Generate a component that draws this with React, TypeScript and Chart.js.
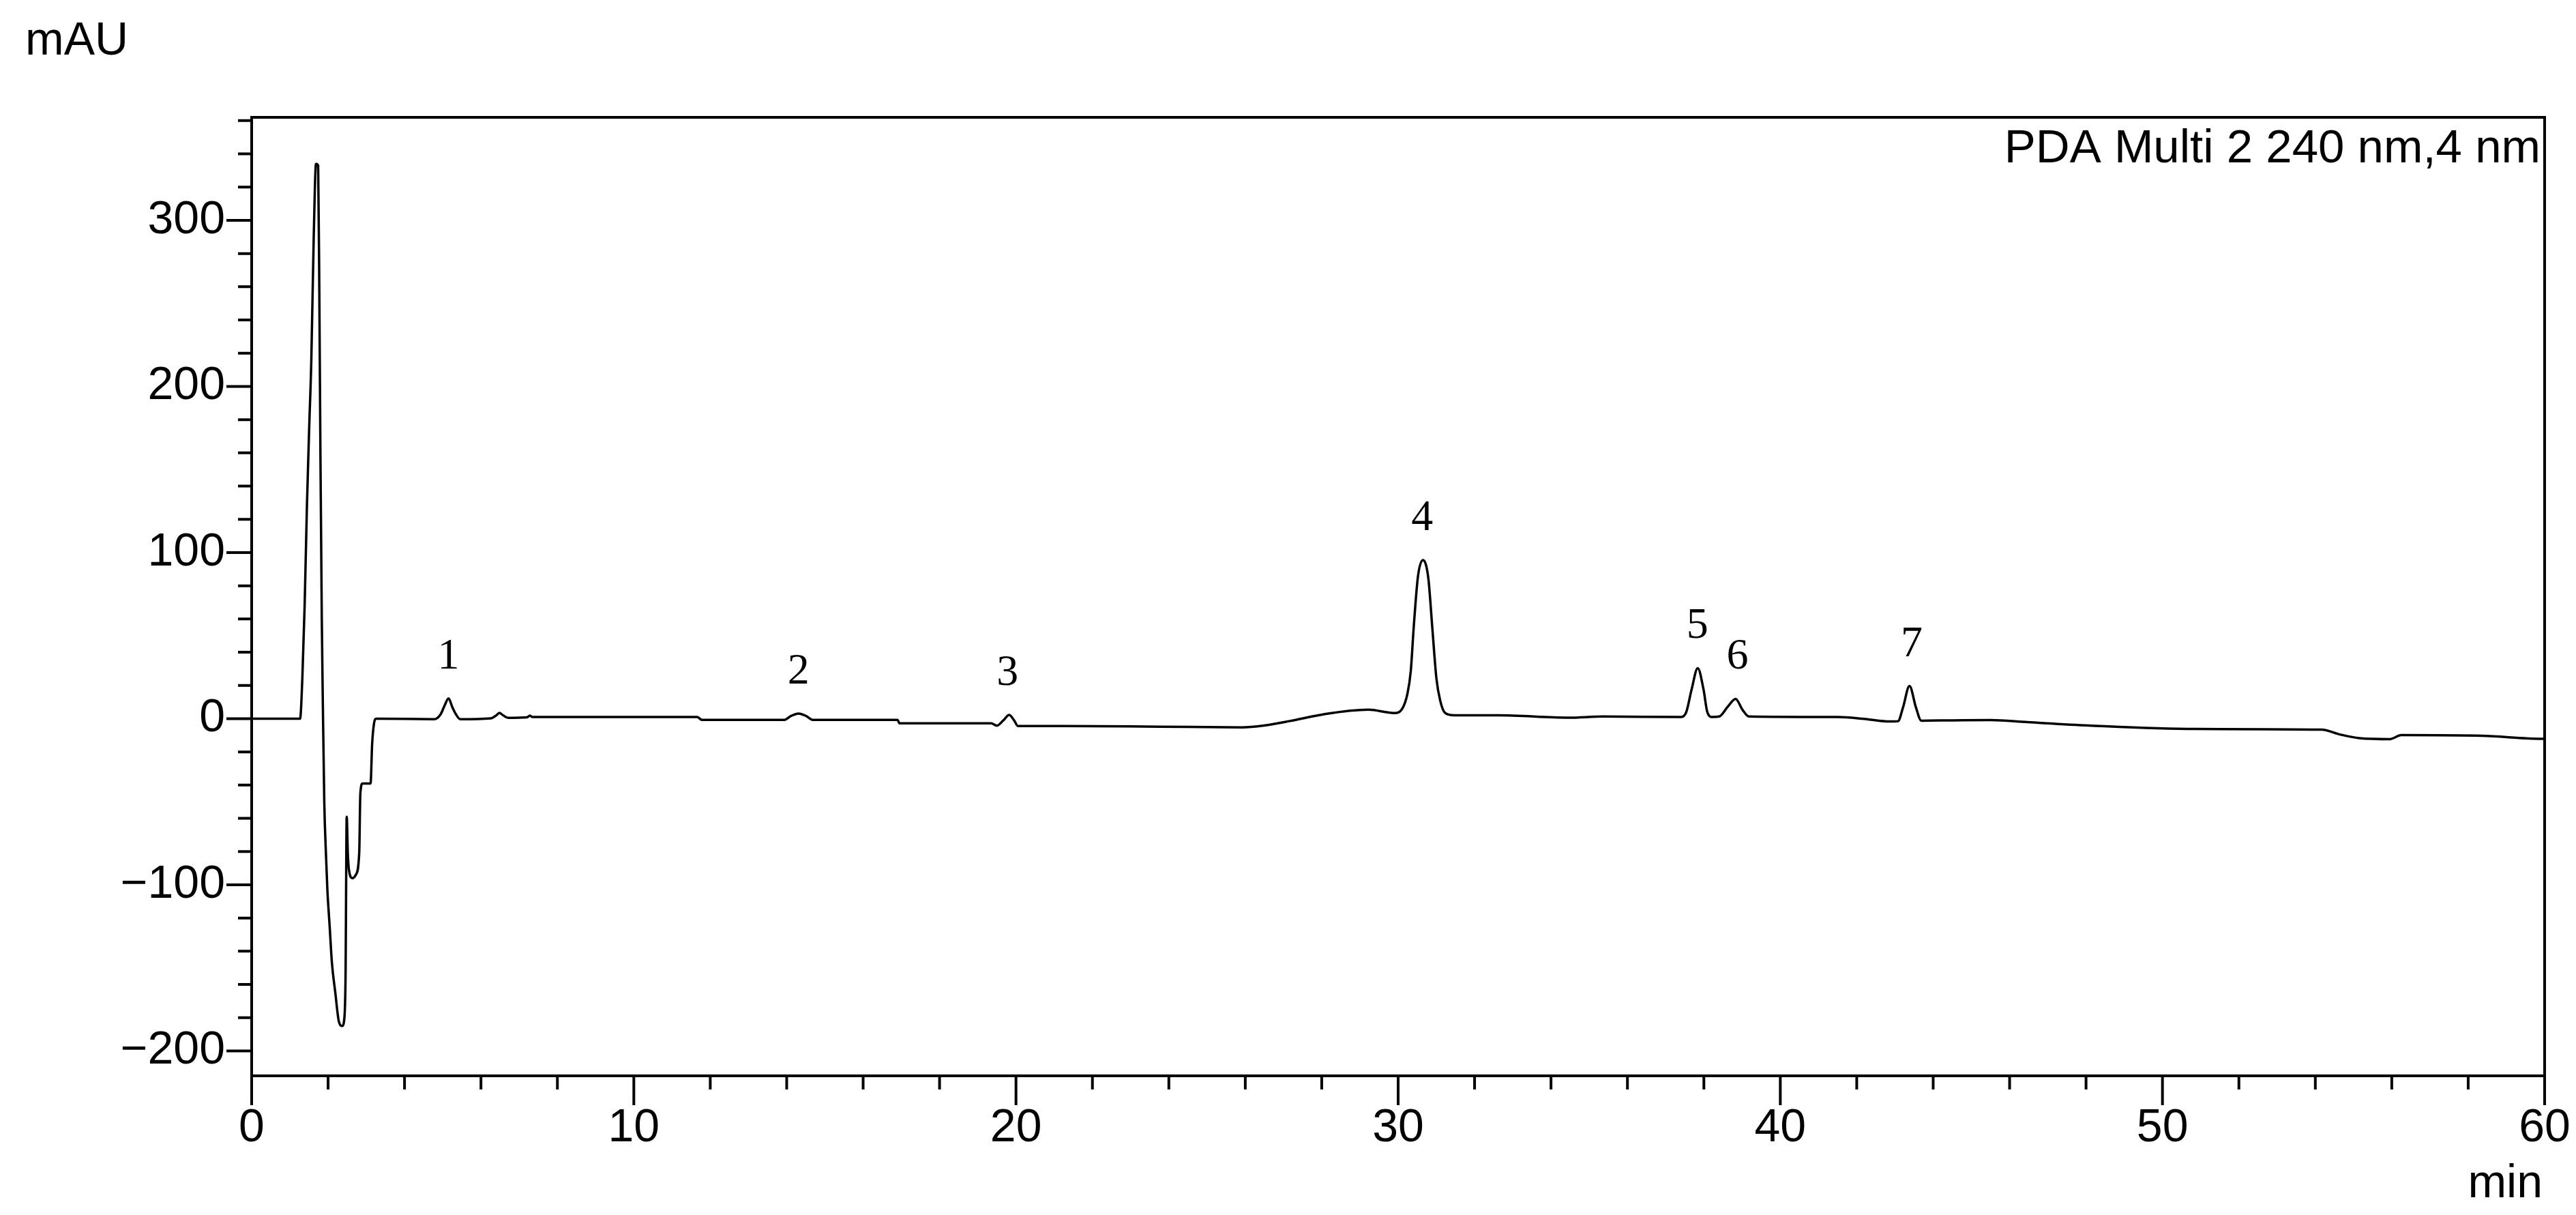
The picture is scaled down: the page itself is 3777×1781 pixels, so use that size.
import { useEffect, useRef } from 'react';
import { Chart, registerables } from 'chart.js';

Chart.register(...registerables);

// Retention time (min) and detector signal (mAU)
const retentionTimes = [
  0, 1.267, 1.327, 1.386, 1.446, 1.505, 1.56, 1.624, 1.684, 1.74, 1.773, 1.8, 1.835, 1.862, 1.9, 1.95,
  1.981, 2.041, 2.1, 2.189, 2.279, 2.368, 2.427, 2.457, 2.487, 2.516, 2.546, 2.636, 2.725, 2.814, 2.844,
  2.903, 3.111, 3.153, 3.201, 3.26, 4.774, 4.946, 5.05, 5.151, 5.25, 5.344, 5.458, 6.254, 6.4, 6.482,
  6.58, 6.711, 7.2, 7.279, 7.35, 11.66, 11.78, 13.94, 14.11, 14.31, 14.51, 14.68, 16.9, 16.95, 19.35,
  19.5, 19.67, 19.82, 19.95, 20.05, 21.26, 23.755, 25.91, 26.49, 27.17, 28.06, 29.22, 29.9, 30.11,
  30.24, 30.33, 30.41, 30.52, 30.65, 30.79, 30.89, 31.0, 31.1, 31.23, 31.47, 32.63, 34.46, 35.36,
  37.41, 37.54, 37.68, 37.84, 37.99, 38.09, 38.22, 38.4, 38.63, 38.83, 39.01, 39.18, 41.5, 42.19,
  42.87, 43.08, 43.21, 43.38, 43.55, 43.69, 44.5, 45.5, 46.47, 48.07, 50.86, 54.16, 54.66, 55.15,
  55.95, 56.25, 58.35, 59.95, 60,
];
const absorbance = [
  0, 0, 25, 68, 128, 175, 215, 290, 334, 333, 248, 157, 60, 10, -50, -85,
  -103, -125, -147, -165, -182, -185, -180, -154, -59, -81, -91, -96, -94, -81, -45,
  -39, -39, -15, -3, 0, -0.3, 2.7, 8, 12.2, 7, 2.7, -0.3, 0.2, 2, 3.5,
  2, 0.5, 0.8, 1.8, 1.0, 1.0, -0.7, -0.7, 1.6, 3.1, 1.6, -0.7, -0.7, -2.8, -2.8,
  -4.2, -1, 2.2, -1, -4.4, -4.4, -4.8, -5.2, -4.1, -1.4, 2.7, 5.4, 3.4, 6.1,
  14.7, 28.6, 55.9, 85.9, 95.5, 84.5, 55.9, 24.5, 10.9, 3.4, 2.0, 2.0, 0.6, 1.3,
  1.0, 4.0, 17.7, 30.4, 17.7, 4.0, 1.0, 1.3, 7.4, 11.9, 5.4, 1.3, 1.0, -0.1,
  -1.7, -1.5, 6.7, 19.7, 6.7, -1.2, -1.0, -0.8, -2.1, -4.1, -6.2, -6.6, -9.6, -11.7,
  -12.3, -9.9, -10.3, -12.1, -12.1,
];

// Numbered peaks: label, retention time (min), apex height (mAU)
const peakNumbers = ['1', '2', '3', '4', '5', '6', '7'];
const peakTimes = [5.15, 14.31, 19.78, 30.63, 37.83, 38.88, 43.44];
const peakHeights = [12.2, 3.1, 2.2, 95.5, 30.4, 11.9, 19.7];

const xMin = 0;
const xMax = 60;
const yMin = -215;
const yMax = 362;
const xMajorStep = 10;
const xMinorStep = 2;
const yMajorStep = 100;
const yMinorStep = 20;

const yUnitLabel = 'mAU';
const xUnitLabel = 'min';
const channelLabel = 'PDA Multi 2 240 nm,4 nm';

const SANS = '"Liberation Sans", Arial, sans-serif';
const SERIF = '"Liberation Serif", "Times New Roman", serif';

const decorPlugin = {
  id: 'decor',
  afterDraw(chart: any) {
    const ctx: CanvasRenderingContext2D = chart.ctx;
    const { left, right, top, bottom } = chart.chartArea;
    const xs = chart.scales.x;
    const ys = chart.scales.y;
    ctx.save();
    ctx.strokeStyle = '#000';
    ctx.lineWidth = 4;
    ctx.lineCap = 'butt';
    ctx.strokeRect(left, top, right - left, bottom - top);

    ctx.beginPath();
    for (let v = Math.ceil(yMin / yMinorStep) * yMinorStep; v <= yMax; v += yMinorStep) {
      const py = ys.getPixelForValue(v);
      const len = v % yMajorStep === 0 ? 37 : 20;
      ctx.moveTo(left - len, py);
      ctx.lineTo(left, py);
    }
    for (let t = xMin; t <= xMax; t += xMinorStep) {
      const px = xs.getPixelForValue(t);
      const len = t % xMajorStep === 0 ? 43 : 20;
      ctx.moveTo(px, bottom);
      ctx.lineTo(px, bottom + len);
    }
    ctx.stroke();

    ctx.fillStyle = '#000';
    ctx.font = `68px ${SANS}`;
    ctx.textBaseline = 'alphabetic';
    ctx.textAlign = 'left';
    ctx.fillText(yUnitLabel, 37, top - 92);
    ctx.textAlign = 'right';
    ctx.fillText(xUnitLabel, right - 3, bottom + 178);
    ctx.font = `69px ${SANS}`;
    ctx.fillText(channelLabel, right - 6, top + 66);

    ctx.font = `64px ${SERIF}`;
    ctx.textAlign = 'center';
    for (let i = 0; i < peakNumbers.length; i++) {
      const px = xs.getPixelForValue(peakTimes[i]);
      const py = ys.getPixelForValue(peakHeights[i]);
      ctx.fillText(peakNumbers[i], px, py - 44);
    }
    ctx.restore();
  },
};

export default function App() {
  const canvasRef = useRef<HTMLCanvasElement | null>(null);

  useEffect(() => {
    const canvas = canvasRef.current;
    if (!canvas) return;
    const points = retentionTimes.map((t, i) => ({ x: t, y: absorbance[i] }));
    const chart = new Chart(canvas, {
      type: 'line',
      data: {
        datasets: [
          {
            data: points,
            borderColor: '#000',
            borderWidth: 3.5,
            pointRadius: 0,
            fill: false,
            cubicInterpolationMode: 'monotone',
          },
        ],
      },
      options: {
        animation: false,
        responsive: false,
        devicePixelRatio: 1,
        layout: { padding: { top: 172, right: 46, left: 0, bottom: 0 } },
        plugins: { legend: { display: false }, tooltip: { enabled: false } },
        scales: {
          x: {
            type: 'linear',
            min: xMin,
            max: xMax,
            grid: { display: false, drawTicks: false },
            border: { display: false },
            afterFit: (scale: any) => {
              scale.height = 204;
              scale.paddingLeft = 0;
              scale.paddingRight = 0;
            },
            ticks: {
              stepSize: xMajorStep,
              autoSkip: false,
              maxRotation: 0,
              minRotation: 0,
              padding: 36,
              color: '#000',
              font: { family: SANS, size: 68 },
            },
          },
          y: {
            type: 'linear',
            min: yMin,
            max: yMax,
            grid: { display: false, drawTicks: false },
            border: { display: false },
            afterFit: (scale: any) => {
              scale.width = 369;
              scale.paddingTop = 0;
              scale.paddingBottom = 0;
            },
            ticks: {
              stepSize: yMajorStep,
              includeBounds: false,
              autoSkip: false,
              padding: 39,
              color: '#000',
              font: { family: SANS, size: 68 },
              callback: (v: any) => (Number(v) < 0 ? '\u2212' + Math.abs(Number(v)) : String(v)),
            },
          },
        },
      },
      plugins: [decorPlugin],
    } as any);
    return () => chart.destroy();
  }, []);

  return (
    <div style={{ position: 'absolute', left: 0, top: 0, width: 3777, height: 1781, background: '#fff' }}>
      <canvas ref={canvasRef} width={3777} height={1781} style={{ width: 3777, height: 1781, display: 'block' }} />
    </div>
  );
}
